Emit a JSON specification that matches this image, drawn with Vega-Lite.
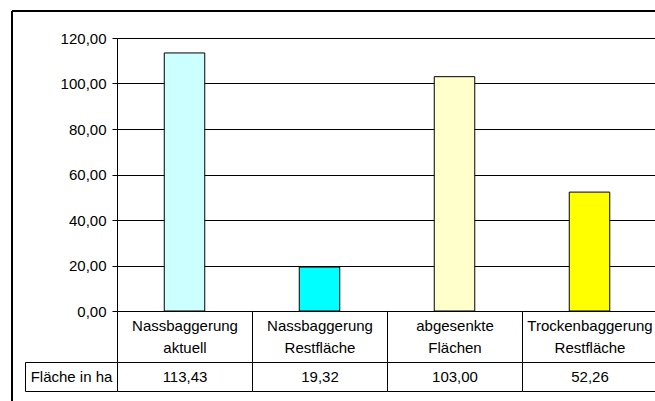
{
  "$schema": "https://vega.github.io/schema/vega-lite/v6.json",
  "width": 643,
  "height": 390,
  "autosize": "none",
  "padding": {"left": 12, "top": 11, "right": 0, "bottom": 0},
  "view": {"stroke": "transparent", "strokeWidth": 0},
  "config": {
    "font": "Liberation Sans",
    "view": {"stroke": "transparent", "strokeWidth": 0},
    "locale": {"number": {"decimal": ",", "thousands": ".", "grouping": [3], "currency": ["", " €"]}},
    "text": {"fontSize": 15, "color": "#000000"}
  },
  "data": {
    "values": [
      {"kategorie": "Nassbaggerung aktuell", "flaeche": 113.43},
      {"kategorie": "Nassbaggerung Restfläche", "flaeche": 19.32},
      {"kategorie": "abgesenkte Flächen", "flaeche": 103.00},
      {"kategorie": "Trockenbaggerung Restfläche", "flaeche": 52.26}
    ]
  },
  "resolve": {"scale": {"x": "independent", "y": "independent", "color": "independent"}, "axis": {"x": "independent", "y": "independent"}},
  "layer": [
    {
      "data": {"values": [{"bereich": "Diagrammfläche"}]},
      "mark": {"type": "rect", "fill": "#ffffff", "fillOpacity": 0, "strokeOpacity": 0},
      "encoding": {
        "x": {"field": "bereich", "type": "nominal",
              "scale": {"domain": ["Diagrammfläche"], "range": [0, 700], "paddingInner": 0, "paddingOuter": 0},
              "axis": {"orient": "top", "title": null, "labels": false, "ticks": false, "grid": false, "domain": true, "domainColor": "#000000", "domainWidth": 2, "translate": 0}},
        "y": {"field": "bereich", "type": "nominal",
              "scale": {"domain": ["Diagrammfläche"], "range": [0, 450], "paddingInner": 0, "paddingOuter": 0},
              "axis": {"orient": "left", "title": null, "labels": false, "ticks": false, "grid": false, "domain": true, "domainColor": "#000000", "domainWidth": 2, "translate": 0}}
      }
    },
    {
      "mark": {"type": "rect", "fill": "#ffffff", "stroke": "#000000", "strokeWidth": 1},
      "encoding": {
        "x": {"field": "kategorie", "type": "nominal", "sort": null, "axis": null,
              "scale": {"domain": ["Nassbaggerung aktuell", "Nassbaggerung Restfläche", "abgesenkte Flächen", "Trockenbaggerung Restfläche"], "range": [105.5, 645.5], "paddingInner": 0, "paddingOuter": 0}},
        "y": {"datum": "Kategorie", "type": "nominal", "axis": null,
              "scale": {"domain": ["Kategorie"], "range": [300.5, 351.5], "paddingInner": 0, "paddingOuter": 0}}
      }
    },
    {
      "mark": {"type": "rect", "fill": "#ffffff", "stroke": "#000000", "strokeWidth": 1},
      "encoding": {
        "x": {"field": "kategorie", "type": "nominal", "sort": null, "axis": null,
              "scale": {"domain": ["Nassbaggerung aktuell", "Nassbaggerung Restfläche", "abgesenkte Flächen", "Trockenbaggerung Restfläche"], "range": [105.5, 645.5], "paddingInner": 0, "paddingOuter": 0}},
        "y": {"datum": "Fläche in ha", "type": "nominal", "axis": null,
              "scale": {"domain": ["Fläche in ha"], "range": [351.5, 380.5], "paddingInner": 0, "paddingOuter": 0}}
      }
    },
    {
      "data": {"values": [{"zeile": "Fläche in ha"}]},
      "mark": {"type": "rect", "fill": "#ffffff", "stroke": "#000000", "strokeWidth": 1},
      "encoding": {
        "x": {"field": "zeile", "type": "nominal", "axis": null,
              "scale": {"domain": ["Fläche in ha"], "range": [13.5, 105.5], "paddingInner": 0, "paddingOuter": 0}},
        "y": {"field": "zeile", "type": "nominal", "axis": null,
              "scale": {"domain": ["Fläche in ha"], "range": [351.5, 380.5], "paddingInner": 0, "paddingOuter": 0}}
      }
    },
    {
      "mark": {"type": "text", "lineBreak": " ", "lineHeight": 22, "baseline": "middle", "dy": -11, "fontSize": 15, "color": "#000000"},
      "encoding": {
        "x": {"field": "kategorie", "type": "nominal", "sort": null, "axis": null,
              "scale": {"domain": ["Nassbaggerung aktuell", "Nassbaggerung Restfläche", "abgesenkte Flächen", "Trockenbaggerung Restfläche"], "range": [105.5, 645.5], "paddingInner": 0, "paddingOuter": 0}},
        "y": {"datum": "Kategorie", "type": "nominal", "axis": null,
              "scale": {"domain": ["Kategorie"], "range": [300.5, 351.5], "paddingInner": 0, "paddingOuter": 0}},
        "text": {"field": "kategorie", "type": "nominal"}
      }
    },
    {
      "mark": {"type": "text", "baseline": "middle", "fontSize": 15, "color": "#000000"},
      "encoding": {
        "x": {"field": "kategorie", "type": "nominal", "sort": null, "axis": null,
              "scale": {"domain": ["Nassbaggerung aktuell", "Nassbaggerung Restfläche", "abgesenkte Flächen", "Trockenbaggerung Restfläche"], "range": [105.5, 645.5], "paddingInner": 0, "paddingOuter": 0}},
        "y": {"datum": "Fläche in ha", "type": "nominal", "axis": null,
              "scale": {"domain": ["Fläche in ha"], "range": [351.5, 380.5], "paddingInner": 0, "paddingOuter": 0}},
        "text": {"field": "flaeche", "type": "quantitative", "format": ".2f"}
      }
    },
    {
      "data": {"values": [{"zeile": "Fläche in ha"}]},
      "mark": {"type": "text", "baseline": "middle", "fontSize": 15, "color": "#000000"},
      "encoding": {
        "x": {"field": "zeile", "type": "nominal", "axis": null,
              "scale": {"domain": ["Fläche in ha"], "range": [13.5, 105.5], "paddingInner": 0, "paddingOuter": 0}},
        "y": {"field": "zeile", "type": "nominal", "axis": null,
              "scale": {"domain": ["Fläche in ha"], "range": [351.5, 380.5], "paddingInner": 0, "paddingOuter": 0}},
        "text": {"field": "zeile", "type": "nominal"}
      }
    },
    {
      "mark": {"type": "bar", "stroke": "#000000", "strokeWidth": 1},
      "encoding": {
        "x": {"field": "kategorie", "type": "nominal", "sort": null, "axis": null,
              "scale": {"domain": ["Nassbaggerung aktuell", "Nassbaggerung Restfläche", "abgesenkte Flächen", "Trockenbaggerung Restfläche"], "range": [105, 645], "paddingInner": 0.7, "paddingOuter": 0.35}},
        "y": {"field": "flaeche", "type": "quantitative",
              "scale": {"domain": [0, 120], "range": [300, 27], "nice": false},
              "axis": {"orient": "left", "offset": -105, "values": [0, 20, 40, 60, 80, 100, 120], "format": ".2f",
                       "title": null, "grid": true, "gridColor": "#000000", "gridOpacity": 1, "gridWidth": 1,
                       "domainColor": "#000000", "tickColor": "#000000", "tickSize": 5, "labelPadding": 6,
                       "labelFontSize": 15, "labelColor": "#000000", "labelFont": "Liberation Sans"}},
        "color": {"field": "kategorie", "type": "nominal", "sort": null, "legend": null,
                  "scale": {"domain": ["Nassbaggerung aktuell", "Nassbaggerung Restfläche", "abgesenkte Flächen", "Trockenbaggerung Restfläche"], "range": ["#CCFFFF", "#00FFFF", "#FFFFCC", "#FFFF00"]}}
      }
    }
  ]
}
